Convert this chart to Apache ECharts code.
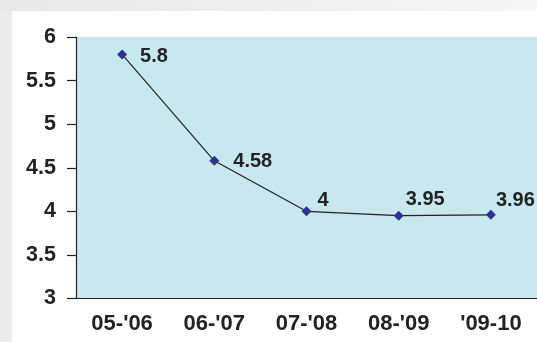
<!DOCTYPE html>
<html>
<head>
<meta charset="utf-8">
<script src="https://cdn.jsdelivr.net/npm/echarts@6/dist/echarts.min.js"></script>
<style>
  html, body { margin: 0; padding: 0; background: #ffffff; }
  #chart { width: 537px; height: 342px; }
</style>
</head>
<body>
<div id="chart"></div>
<script>
// Academic years and the value for each
const categories = ["05-'06", "06-'07", "07-'08", "08-'09", "'09-10"];
const values = [5.8, 4.58, 4, 3.95, 3.96];
// Label nudges per point [dx, dy]
const labelOffsets = [[8, 2], [9, 1], [1, -11], [-3, -16], [-5, -14]];

const chart = echarts.init(document.getElementById('chart'), null, { renderer: 'canvas' });

const fontFamily = 'Liberation Sans, Arial, sans-serif';

chart.setOption({
  backgroundColor: '#ffffff',
  animation: false,
  graphic: [
    {
      type: 'rect', left: 0, top: 0, z: -10,
      shape: { width: 12, height: 342 },
      style: { fill: '#ebebeb' }
    },
    {
      type: 'rect', left: 0, top: 0, z: -10,
      shape: { width: 537, height: 11 },
      style: {
        fill: new echarts.graphic.LinearGradient(0, 0, 1, 0, [
          { offset: 0, color: '#e8e8e8' },
          { offset: 1, color: '#f6f6f6' }
        ])
      }
    }
  ],
  grid: {
    left: 76, right: -6, top: 37, bottom: 43.5,
    show: true, backgroundColor: '#c7e8ef', borderWidth: 0
  },
  xAxis: {
    type: 'category',
    data: categories,
    boundaryGap: true,
    axisLine: { lineStyle: { color: '#222', width: 1.2 } },
    axisTick: { length: 9, lineStyle: { color: '#222', width: 1.2 } },
    axisLabel: {
      margin: 14, color: '#222', fontSize: 22, fontWeight: 'bold', fontFamily
    }
  },
  yAxis: {
    type: 'value',
    min: 3, max: 6, interval: 0.5,
    splitLine: { show: false },
    axisLine: { show: true, lineStyle: { color: '#222', width: 1.2 } },
    axisTick: { show: true, length: 9, lineStyle: { color: '#222', width: 1.2 } },
    axisLabel: {
      margin: 20, color: '#222', fontSize: 21.5, fontWeight: 'bold', fontFamily
    }
  },
  series: [{
    type: 'line',
    data: values.map((v, i) => ({
      value: v,
      label: { offset: labelOffsets[i] }
    })),
    symbol: 'diamond',
    symbolSize: 10,
    itemStyle: { color: '#2e3192' },
    lineStyle: { color: '#222', width: 1.2 },
    label: {
      show: true,
      position: 'right',
      distance: 5,
      color: '#222',
      fontSize: 20,
      fontWeight: 'bold',
      fontFamily
    }
  }]
});
</script>
</body>
</html>
